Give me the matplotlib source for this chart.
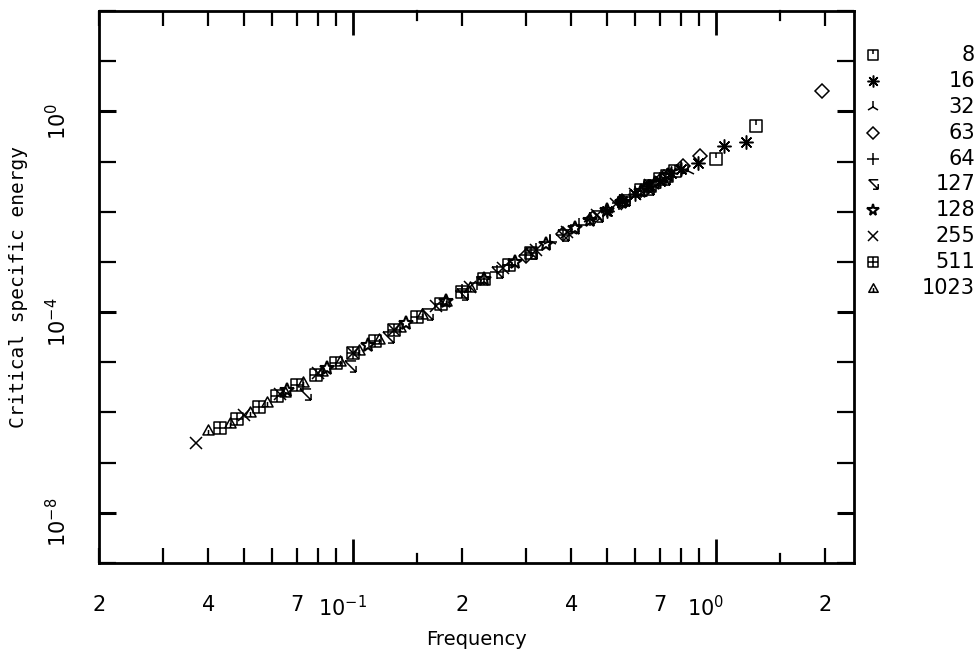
import numpy as np
import matplotlib
matplotlib.use("Agg")
import matplotlib.pyplot as plt
from matplotlib.path import Path
from matplotlib import transforms

# series labels (system sizes)
sizes = ["8", "16", "32", "63", "64", "127", "128", "255", "511", "1023"]

# frequency / critical specific energy
f_8 = [0.62, 0.66, 0.70, 0.735, 0.77, 1.00, 1.29]
e_8 = [0.027, 0.033, 0.044, 0.052, 0.064, 0.11, 0.50]

f_16 = [0.50, 0.55, 0.60, 0.65, 0.70, 0.75, 0.80, 0.895, 1.055, 1.21]
e_16 = [0.0105, 0.0163, 0.0225, 0.032, 0.041, 0.058, 0.072, 0.095, 0.20, 0.25]

f_32 = [0.35, 0.40, 0.45, 0.50, 0.55, 0.60, 0.65, 0.70, 0.75, 0.80, 0.84]
e_32 = [0.0026, 0.0042, 0.0072, 0.0110, 0.0155, 0.0232, 0.031, 0.044, 0.055, 0.076, 0.066]

f_63 = [0.30, 0.38, 0.46, 0.55, 0.64, 0.72, 0.81, 0.906, 1.96]
e_63 = [0.0013, 0.0036, 0.0075, 0.0165, 0.029, 0.049, 0.083, 0.13, 2.6]

f_64 = [0.20, 0.22, 0.25, 0.27, 0.30, 0.32, 0.35, 0.38, 0.42, 0.45, 0.50, 0.54,
        0.58, 0.62, 0.66, 0.70]
e_64 = [2.6e-4, 3.8e-4, 6.2e-4, 8.6e-4, 0.00138, 0.00172, 0.00245, 0.0035, 0.0054, 0.0071,
        0.0106, 0.0146, 0.0200, 0.0262, 0.033, 0.043]

f_127 = [0.074, 0.0984, 0.125, 0.16, 0.20, 0.25, 0.31, 0.38, 0.47, 0.56, 0.65, 0.72]
e_127 = [2.3e-6, 8.3e-6, 3.2e-5, 9.0e-5, 2.3e-4, 6.2e-4, 0.0015, 0.0035, 0.0083, 0.0170,
         0.029, 0.045]

f_128 = [0.066, 0.085, 0.11, 0.14, 0.18, 0.23, 0.28, 0.34, 0.41, 0.45, 0.50, 0.55,
         0.62, 0.68, 0.74]
e_128 = [2.8e-6, 7.6e-6, 2.2e-5, 6.0e-5, 1.65e-4, 4.5e-4, 1.0e-3, 2.25e-3, 4.8e-3, 7.0e-3,
         0.0108, 0.0158, 0.026, 0.038, 0.054]

f_255 = [0.037, 0.050, 0.063, 0.080, 0.10, 0.13, 0.17, 0.21, 0.26, 0.32, 0.39, 0.47,
         0.53, 0.60, 0.66]
e_255 = [2.5e-7, 8.8e-7, 2.3e-6, 6.0e-6, 1.5e-5, 4.4e-5, 1.3e-4, 3.1e-4, 7.4e-4, 1.75e-3,
         3.9e-3, 0.0085, 0.0140, 0.0228, 0.0336]

f_511 = [0.043, 0.048, 0.055, 0.062, 0.070, 0.079, 0.090, 0.10, 0.115, 0.13,
         0.15, 0.175, 0.20, 0.23, 0.27, 0.31]
e_511 = [4.8e-7, 7.4e-7, 1.3e-6, 2.1e-6, 3.5e-6, 5.7e-6, 9.7e-6, 1.5e-5, 2.65e-5, 4.4e-5,
         7.9e-5, 1.48e-4, 2.55e-4, 4.5e-4, 8.7e-4, 1.53e-3]

f_1023 = [0.040, 0.046, 0.052, 0.058, 0.065, 0.073, 0.082, 0.092, 0.104, 0.118,
          0.135, 0.155, 0.18, 0.21]
e_1023 = [4.5e-7, 6.2e-7, 1.03e-6, 1.6e-6, 2.6e-6, 4.1e-6, 6.6e-6, 1.06e-5, 1.76e-5, 2.9e-5,
          5.1e-5, 9.0e-5, 1.66e-4, 3.1e-4]

freqs = [f_8, f_16, f_32, f_63, f_64, f_127, f_128, f_255, f_511, f_1023]
energies = [e_8, e_16, e_32, e_63, e_64, e_127, e_128, e_255, e_511, e_1023]

M, L, C = Path.MOVETO, Path.LINETO, Path.CLOSEPOLY

# pgplot-like symbols
sq_stem = Path([(-1, -1), (1, -1), (1, 1), (-1, 1), (-1, -1), (0, 1), (0, 0.2)],
               [M, L, L, L, C, M, L])
sq_plus = Path([(-1, -1), (1, -1), (1, 1), (-1, 1), (-1, -1),
                (-1, 0), (1, 0), (0, -1), (0, 1)],
               [M, L, L, L, C, M, L, M, L])
tri_bar = Path([(-1, -0.8), (1, -0.8), (0, 1), (-1, -0.8), (0, -0.8), (0, 0.1)],
               [M, L, L, C, M, L])
arrow_se = Path([(-1, 1), (1, 1), (-1, 1), (1, -1), (1, -1), (1, 0.1), (1, -1), (-0.1, -1)],
                [M, L, M, L, M, L, M, L])

markers = [sq_stem, (8, 2, 0), "2", "D", "+", arrow_se, "*", "x", sq_plus, tri_bar]
msizes = [8, 10, 10, 7, 10, 8, 10, 9, 8, 8]
mews = [1.1, 1.1, 1.1, 1.1, 1.1, 1.1, 1.5, 1.1, 1.1, 1.1]

fig = plt.figure(figsize=(9.78, 6.54), dpi=100)
ax = fig.add_axes([99 / 978, 1 - 563 / 654, 755 / 978, 552 / 654])

for f, e, mk, ms, mw in zip(freqs, energies, markers, msizes, mews):
    ax.plot(f, e, linestyle="none", marker=mk, markersize=ms,
            markerfacecolor="none", markeredgecolor="black", markeredgewidth=mw)

ax.set_xscale("log")
ax.set_yscale("log")
ax.set_xlim(0.02, 2.4)
ax.set_ylim(1e-9, 1e2)

# x ticks: decades long, 2..9 medium, 1.5 short
ax.set_xticks([0.1, 1.0])
ax.set_xticklabels([r"$10^{-1}$", r"$10^{0}$"])
xminor = [m * 10.0 ** k for k in (-2, -1, 0) for m in range(2, 10) if 0.02 <= m * 10.0 ** k <= 2.4]
ax.set_xticks(xminor, minor=True)
ax.set_xticklabels([("%d" % round(v / 10 ** np.floor(np.log10(v) + 1e-9)))
                    if round(v / 10 ** np.floor(np.log10(v) + 1e-9)) in (2, 4, 7) else ""
                    for v in xminor], minor=True)
for x15 in (0.15, 1.5):
    ax.plot([x15, x15], [0, 0.017], color="black", lw=1.6, transform=ax.get_xaxis_transform(),
            clip_on=False)
    ax.plot([x15, x15], [1, 1 - 0.017], color="black", lw=1.6, transform=ax.get_xaxis_transform(),
            clip_on=False)

# y ticks every decade, labels every 4 decades
ax.set_yticks([1e-8, 1e-4, 1e0])
ax.set_yticklabels([r"$10^{-8}$", r"$10^{-4}$", r"$10^{0}$"])
ax.set_yticks([10.0 ** k for k in range(-9, 3) if k not in (-8, -4, 0)], minor=True)
ax.yaxis.set_minor_formatter(plt.NullFormatter())

ax.tick_params(axis="both", which="both", direction="in", top=True, right=True,
               colors="black", labelsize=15)
ax.tick_params(axis="x", which="major", length=17, width=2.0, pad=23)
ax.tick_params(axis="x", which="minor", length=11, width=1.6, pad=23)
ax.tick_params(axis="y", which="major", length=12, width=2.2, pad=21, labelrotation=90)
ax.tick_params(axis="y", which="minor", length=12, width=1.6)
for lab in ax.get_yticklabels():
    lab.set_verticalalignment("center")

# decade labels sit a little before their tick, as in the original
dx = transforms.ScaledTranslation(-10 / 100, 0, fig.dpi_scale_trans)
for lab in ax.xaxis.get_majorticklabels():
    lab.set_transform(lab.get_transform() + dx)
dy = transforms.ScaledTranslation(0, -10 / 100, fig.dpi_scale_trans)
for lab in ax.yaxis.get_majorticklabels():
    lab.set_transform(lab.get_transform() + dy)

for sp in ax.spines.values():
    sp.set_linewidth(2.0)

ax.set_xlabel("Frequency", fontsize=14, labelpad=7)
ax.set_ylabel("Critical specific energy", fontsize=14, family="DejaVu Sans Mono", labelpad=12)

# legend column on the right
axl = fig.add_axes([860 / 978, 1 - 301 / 654, 118 / 978, 259 / 654])
axl.set_xlim(0, 1)
axl.set_ylim(9.5, -0.5)
axl.axis("off")
for i, (lab, mk, ms, mw) in enumerate(zip(sizes, markers, msizes, mews)):
    axl.plot([0.11], [i], linestyle="none", marker=mk, markersize=ms * 0.85,
             markerfacecolor="none", markeredgecolor="black", markeredgewidth=mw)
    axl.text(0.975, i, lab, ha="right", va="center", fontsize=15, color="black")

fig.savefig("out.png", dpi=100)
